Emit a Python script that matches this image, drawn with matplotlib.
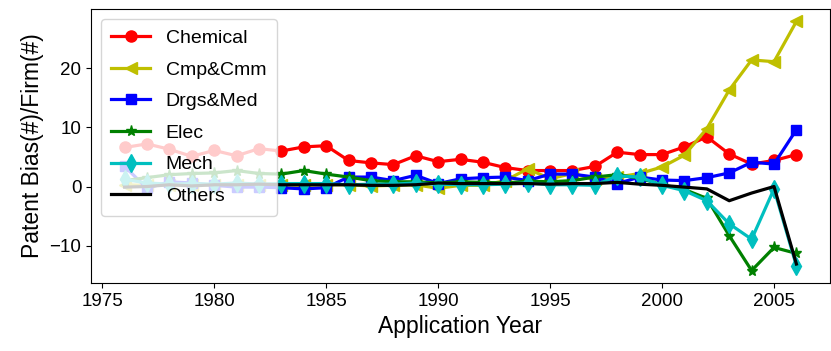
import matplotlib
matplotlib.use("Agg")
import matplotlib.pyplot as plt
import numpy as np

plt.rcParams['font.family'] = ['Liberation Sans', 'DejaVu Sans']

years = list(range(1976, 2007))
chemical = [6.6, 7.2, 6.3, 5.1, 6.1, 5.2, 6.4, 6.0, 6.7, 6.9, 4.4, 4.0, 3.7, 5.2, 4.2, 4.6, 4.1, 3.2,
            2.7, 2.7, 2.7, 3.4, 5.8, 5.4, 5.4, 6.7, 8.4, 5.5, 3.8, 4.4, 5.4]
cmp_cmm = [0.3, 0.2, 0.3, 0.2, 0.3, 0.3, 0.2, 0.3, 0.2, 0.3, 0.3, 0.1, 0.2, 0.3, -0.3, 0.2, 0.2, 1.0,
           3.0, 1.3, 2.2, 1.2, 1.6, 2.2, 3.3, 5.3, 9.8, 16.3, 21.4, 21.1, 27.9]
drgs_med = [3.4, -0.3, 0.8, 0.6, 0.2, -0.1, -0.1, -0.2, -0.4, -0.2, 1.6, 1.6, 1.0, 1.9, 0.5, 1.3, 1.5,
            1.6, 1.0, 2.1, 2.1, 1.6, 0.5, 1.6, 1.1, 1.0, 1.5, 2.3, 4.1, 3.8, 9.6]
elec = [1.0, 1.5, 2.0, 2.2, 2.3, 2.7, 2.2, 2.1, 2.7, 2.1, 1.6, 1.0, 0.8, 0.8, 0.6, 0.8, 0.7, 0.6, 0.9,
        0.8, 1.0, 1.6, 2.0, 1.4, 0.3, -0.5, -2.0, -8.3, -14.2, -10.3, -11.3]
mech = [1.2, 0.6, 0.4, 0.5, 0.4, 0.6, 0.4, 0.5, 0.5, 0.5, 0.3, 0.4, 0.4, 0.6, 0.4, 0.3, 0.3, 0.4, 0.6,
        0.3, 0.3, 0.2, 1.8, 1.6, 0.2, -0.7, -2.4, -6.3, -8.9, -0.4, -13.4]
others = [-0.1, 0.0, 0.3, 0.1, 0.3, 0.3, 0.4, 0.3, 0.3, 0.3, 0.3, 0.2, 0.2, 0.3, 0.6, 0.5, 0.5, 0.5,
          0.5, 0.4, 0.5, 0.5, 0.7, 0.4, 0.2, -0.1, -0.4, -2.4, -1.1, 0.0, -13.1]

labels = ['Chemical', 'Cmp&Cmm', 'Drgs&Med', 'Elec', 'Mech', 'Others']

fig = plt.figure(figsize=(8.31, 3.51), dpi=100)
ax = fig.add_axes([91/831, 1 - 283/351, (830 - 91)/831, (283 - 9)/351])

lw = 2.3
ax.plot(years, chemical, 'r-o', lw=lw, ms=8, label=labels[0])
ax.plot(years, cmp_cmm, 'y-<', lw=lw, ms=8, label=labels[1])
ax.plot(years, drgs_med, 'b-s', lw=lw, ms=7, label=labels[2])
ax.plot(years, elec, 'g-*', lw=lw, ms=8, label=labels[3])
ax.plot(years, mech, 'c-d', lw=lw, ms=9, label=labels[4])
ax.plot(years, others, 'k-', lw=lw, label=labels[5])

ax.set_xticks([1975, 1980, 1985, 1990, 1995, 2000, 2005])
ax.set_yticks([-10, 0, 10, 20])
ax.tick_params(labelsize=13.5)
ax.set_xlabel('Application Year', fontsize=16.5)
ax.set_ylabel('Patent Bias(#)/Firm(#)', fontsize=16.5)
ax.legend(loc='upper left', fontsize=14, labelspacing=0.72, borderpad=0.55)

fig.savefig('out.png', dpi=100)
